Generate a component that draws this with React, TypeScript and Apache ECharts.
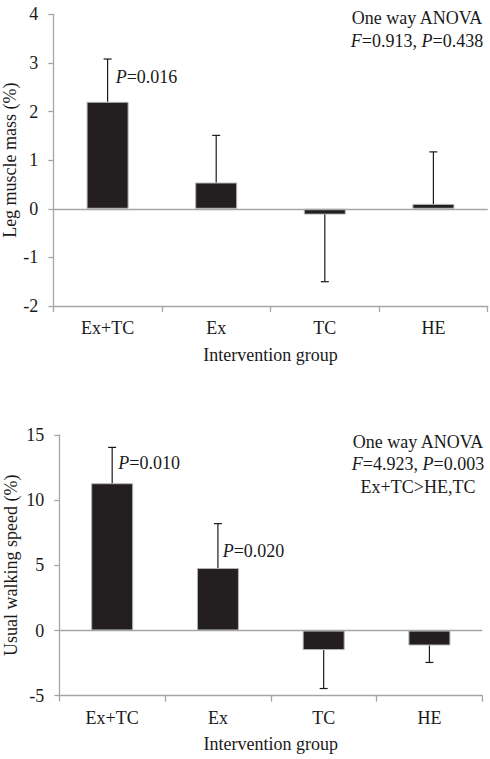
import React, { useEffect, useRef } from "react";
import * as echarts from "echarts";

const categories = ["Ex+TC", "Ex", "TC", "HE"];
const legMean = [2.2, 0.54, -0.12, 0.1];
const legSD = [0.88, 0.97, 1.38, 1.07];
const walkMean = [11.3, 4.8, -1.5, -1.15];
const walkSD = [2.75, 3.4, 2.95, 1.3];
const legTicks = { min: -2, max: 4, interval: 1 };
const walkTicks = { min: -5, max: 15, interval: 5 };

const FONT = "'Liberation Serif', 'Times New Roman', serif";
const TXT = "#1a1a1a";
const AXIS = "#a6a6a6";

const errData = (mean: number[], sd: number[]) =>
  mean.map((m, i) => [i, m, m >= 0 ? m + sd[i] : m - sd[i]]);

const renderErr = (params: any, api: any) => {
  const i = api.value(0);
  const p0 = api.coord([i, api.value(1)]);
  const p1 = api.coord([i, api.value(2)]);
  const style = { stroke: "#1a1a1a", lineWidth: 1.2 };
  return {
    type: "group",
    children: [
      { type: "line", shape: { x1: p0[0], y1: p0[1], x2: p1[0], y2: p1[1] }, style },
      { type: "line", shape: { x1: p1[0] - 4, y1: p1[1], x2: p1[0] + 4, y2: p1[1] }, style },
    ],
  };
};

const rich = {
  i: { fontStyle: "italic", fontFamily: FONT, fontSize: 18, fill: TXT, color: TXT },
  n: { fontFamily: FONT, fontSize: 18, fill: TXT, color: TXT },
};

const txt = (x: number, y: number, text: string, align: string) => ({
  type: "text",
  x,
  y,
  style: {
    text,
    rich,
    fontFamily: FONT,
    fontSize: 18,
    fill: TXT,
    textAlign: align,
    textVerticalAlign: "middle",
  },
});

const xAxisCfg = (gridIndex: number, margin: number, nameGap: number) => ({
  type: "category",
  gridIndex,
  data: categories,
  boundaryGap: true,
  axisLine: { onZero: false, lineStyle: { color: AXIS, width: 1.3 } },
  axisTick: { show: true, length: 6, lineStyle: { color: AXIS, width: 1.3 } },
  axisLabel: { color: TXT, fontFamily: FONT, fontSize: 18, margin },
  name: "Intervention group",
  nameLocation: "middle",
  nameGap,
  nameMoveOverlap: false,
  nameTextStyle: { color: TXT, fontFamily: FONT, fontSize: 18 },
  splitLine: { show: false },
});

const yAxisCfg = (gridIndex: number, t: any, name: string, nameGap: number, margin: number) => ({
  type: "value",
  gridIndex,
  min: t.min,
  max: t.max,
  interval: t.interval,
  axisLine: { show: true, lineStyle: { color: AXIS, width: 1.3 } },
  axisTick: { show: true, length: 5, lineStyle: { color: AXIS, width: 1.3 } },
  axisLabel: { color: TXT, fontFamily: FONT, fontSize: 18, margin },
  splitLine: { show: false },
  name,
  nameLocation: "middle",
  nameRotate: 90,
  nameGap,
  nameMoveOverlap: false,
  nameTextStyle: { color: TXT, fontFamily: FONT, fontSize: 18 },
});

const barSeries = (idx: number, data: number[]) => ({
  type: "bar",
  xAxisIndex: idx,
  yAxisIndex: idx,
  data,
  barWidth: 42,
  itemStyle: { color: "#231f20", borderColor: "#b5b5b5", borderWidth: 1 },
  markLine: {
    silent: true,
    symbol: "none",
    label: { show: false },
    lineStyle: { color: AXIS, width: 1.3, type: "solid" },
    data: [{ yAxis: 0 }],
  },
  z: 2,
});

const errSeries = (idx: number, mean: number[], sd: number[]) => ({
  type: "custom",
  xAxisIndex: idx,
  yAxisIndex: idx,
  data: errData(mean, sd),
  renderItem: renderErr,
  z: 3,
});

export default function App() {
  const ref = useRef<HTMLDivElement>(null);
  useEffect(() => {
    if (!ref.current) return;
    const chart = echarts.init(ref.current, null, { renderer: "svg" });
    chart.setOption({
      animation: false,
      backgroundColor: "#ffffff",
      grid: [
        { left: 53.3, right: 2.3, top: 14.3, height: 291.7, containLabel: false, outerBoundsMode: "none" },
        { left: 59.3, right: 7.7, top: 435, height: 260.7, containLabel: false, outerBoundsMode: "none" },
      ],
      xAxis: [xAxisCfg(0, 13, 40), xAxisCfg(1, 13, 39)],
      yAxis: [
        yAxisCfg(0, legTicks, "Leg muscle mass (%)", 34, 15),
        yAxisCfg(1, walkTicks, "Usual walking speed (%)", 39, 15),
      ],
      series: [
        barSeries(0, legMean),
        errSeries(0, legMean, legSD),
        barSeries(1, walkMean),
        errSeries(1, walkMean, walkSD),
      ],
      graphic: [
        txt(417, 18, "{n|One way ANOVA}", "center"),
        txt(417, 41, "{i|F}{n|=0.913, }{i|P}{n|=0.438}", "center"),
        txt(115.7, 77, "{i|P}{n|=0.016}", "left"),
        txt(418, 442, "{n|One way ANOVA}", "center"),
        txt(418, 464, "{i|F}{n|=4.923, }{i|P}{n|=0.003}", "center"),
        txt(418, 487, "{n|Ex+TC>HE,TC}", "center"),
        txt(118.3, 463.3, "{i|P}{n|=0.010}", "left"),
        txt(222.7, 551, "{i|P}{n|=0.020}", "left"),
      ],
    });
    return () => chart.dispose();
  }, []);
  return (
    <div
      ref={ref}
      style={{ position: "absolute", left: 0, top: 0, width: 490, height: 759, background: "#fff" }}
    />
  );
}
